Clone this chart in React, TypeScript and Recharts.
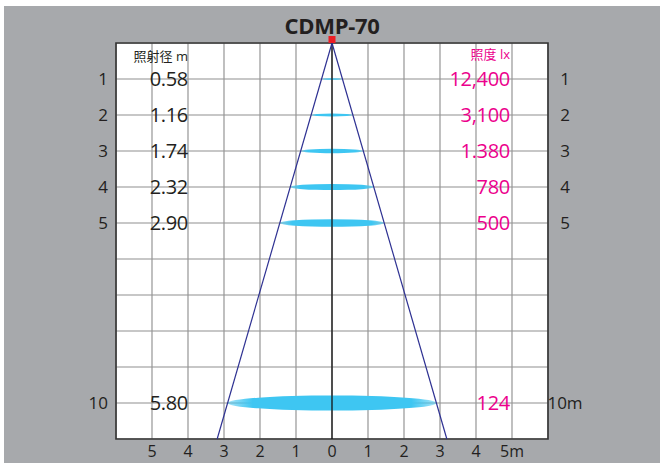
import React from 'react';
import {
  ComposedChart,
  XAxis,
  YAxis,
  CartesianGrid,
  ReferenceLine,
  ReferenceArea,
  Scatter,
} from 'recharts';

// ---------- data ----------
const title = 'CDMP-70';
const distances = [1, 2, 3, 4, 5, 10];
const diameters = [0.58, 1.16, 1.74, 2.32, 2.9, 5.8];
const diameterLabels = ['0.58', '1.16', '1.74', '2.32', '2.90', '5.80'];
const illuminance = ['12,400', '3,100', '1.380', '780', '500', '124'];
const leftRowLabels = ['1', '2', '3', '4', '5', '10'];
const rightRowLabels = ['1', '2', '3', '4', '5', '10m'];
const xTicks = [-5, -4, -3, -2, -1, 0, 1, 2, 3, 4, 5];
const xTickLabels = ['5', '4', '3', '2', '1', '0', '1', '2', '3', '4', '5m'];
const gridRows = [1, 2, 3, 4, 5, 6, 7, 8, 9, 10];
const leftHeader = '照射径 m';
const rightHeader = '照度 lx';
const lampData = [{ x: 0, y: 0 }];
const X_DOMAIN: [number, number] = [-6, 6];
const Y_DOMAIN: [number, number] = [0, 11];

// ---------- styles ----------
const DARK = '#231f20';
const PINK = '#ec008c';
const BLUE = '#3ec6f2';
const CONE = '#2e3192';
const BG = '#a7a9ac';
const FONT = '"Open Sans", "Noto Sans CJK JP", sans-serif';
const ELLIPSE_K = 0.021; // half-thickness of the light spot per metre of distance
const valueStyle: React.CSSProperties = { fontStretch: '93%' };

const last = distances.length - 1;
const coneEdge = (diameters[last] / 2 / distances[last]) * Y_DOMAIN[1];

const LeftTick = (props: any) => {
  const { x, y, payload } = props;
  const i = distances.indexOf(payload.value);
  if (i < 0) return <g />;
  return (
    <g fontFamily={FONT}>
      <text x={x - 8} y={y + 6} textAnchor="end" fontSize={17} fill={DARK}>
        {leftRowLabels[i]}
      </text>
      <text x={x + 72} y={y + 7} textAnchor="end" fontSize={20} letterSpacing={-0.3} style={valueStyle} fill={DARK}>
        {diameterLabels[i]}
      </text>
    </g>
  );
};

const RightTick = (props: any) => {
  const { x, y, payload } = props;
  const i = distances.indexOf(payload.value);
  if (i < 0) return <g />;
  return (
    <g fontFamily={FONT}>
      <text x={x + 17} y={y + 6} textAnchor="middle" fontSize={17} fill={DARK}>
        {rightRowLabels[i]}
      </text>
      <text x={x - 38} y={y + 7} textAnchor="end" fontSize={20} letterSpacing={-0.3} style={valueStyle} fill={PINK}>
        {illuminance[i]}
      </text>
    </g>
  );
};

const BottomTick = (props: any) => {
  const { x, y, payload } = props;
  const i = xTicks.indexOf(payload.value);
  if (i < 0) return <g />;
  return (
    <text x={x} y={y + 18} textAnchor="middle" fontSize={16} fontFamily={FONT} fill={DARK}>
      {xTickLabels[i]}
    </text>
  );
};

const LeftHeader = (props: any) => {
  const vb = props.viewBox || {};
  return (
    <text
      x={vb.x + vb.width + 72}
      y={vb.y + 18}
      textAnchor="end"
      fontSize={13}
      fontFamily={FONT}
      fill={DARK}
    >
      {leftHeader}
    </text>
  );
};

const RightHeader = (props: any) => {
  const vb = props.viewBox || {};
  return (
    <text x={vb.x - 38} y={vb.y + 16} textAnchor="end" fontSize={13} fontFamily={FONT} fill={PINK}>
      {rightHeader}
    </text>
  );
};

const EllipseShape = (p: any) => {
  const w = Math.abs(p.width);
  const h = Math.abs(p.height);
  return (
    <ellipse
      cx={p.x + p.width / 2}
      cy={p.y + p.height / 2}
      rx={w / 2}
      ry={h / 2}
      fill="url(#spotGrad)"
      stroke="none"
    />
  );
};

const LampShape = (p: any) => (
  <rect x={p.cx - 3.5} y={p.cy - 7} width={7} height={7} fill="#ed1c24" />
);

export default function App() {
  return (
    <div style={{ position: 'relative', width: 660, height: 463, background: '#fff', overflow: 'hidden' }}>
      <style>{'body{margin:0;}'}</style>
      <div style={{ position: 'absolute', left: 4, top: 6, width: 656, height: 457, background: BG }}>
        <div
          style={{
            position: 'absolute',
            left: 0,
            top: 8,
            width: 656,
            textAlign: 'center',
            fontFamily: FONT,
            fontWeight: 700,
            fontSize: 22,
            lineHeight: '22px',
            letterSpacing: -0.3,
            color: DARK,
          }}
        >
          {title}
        </div>
        <ComposedChart
          width={656}
          height={457}
          data={lampData}
          margin={{ top: 37, right: 0, bottom: 0, left: 0 }}
        >
          <defs>
            <linearGradient id="spotGrad" x1="0" y1="0" x2="1" y2="0">
              <stop offset="0%" stopColor={BLUE} stopOpacity={0.45} />
              <stop offset="12%" stopColor={BLUE} stopOpacity={1} />
              <stop offset="88%" stopColor={BLUE} stopOpacity={1} />
              <stop offset="100%" stopColor={BLUE} stopOpacity={0.45} />
            </linearGradient>
          </defs>
          <CartesianGrid fill="#ffffff" vertical={false} stroke="#b4b4b4" strokeWidth={1.5} />
          <CartesianGrid fill="none" horizontal={false} stroke="#959595" strokeWidth={1.2} />
          <XAxis
            type="number"
            dataKey="x"
            domain={X_DOMAIN}
            ticks={xTicks}
            interval={0}
            height={24}
            tickSize={0}
            tickMargin={0}
            tickLine={false}
            axisLine={false}
            tick={<BottomTick />}
          />
          <YAxis
            type="number"
            dataKey="y"
            domain={Y_DOMAIN}
            reversed
            ticks={gridRows}
            interval={0}
            width={112}
            tickSize={0}
            tickMargin={0}
            tickLine={false}
            axisLine={false}
            tick={<LeftTick />}
            label={{ content: LeftHeader }}
          />
          <YAxis
            yAxisId="right"
            orientation="right"
            type="number"
            domain={Y_DOMAIN}
            reversed
            ticks={gridRows}
            interval={0}
            width={112}
            tickSize={0}
            tickMargin={0}
            tickLine={false}
            axisLine={false}
            tick={<RightTick />}
            label={{ content: RightHeader }}
            allowDataOverflow
          />
          {distances.map((d, i) => (
            <ReferenceArea
              key={`spot-${d}`}
              x1={-diameters[i] / 2}
              x2={diameters[i] / 2}
              y1={d - d * ELLIPSE_K}
              y2={d + d * ELLIPSE_K}
              ifOverflow="visible"
              shape={EllipseShape}
            />
          ))}
          <ReferenceLine x={0} stroke="#111" strokeWidth={1.3} ifOverflow="visible" />
          <ReferenceLine
            segment={[
              { x: 0, y: 0 },
              { x: -coneEdge, y: Y_DOMAIN[1] },
            ]}
            stroke={CONE}
            strokeWidth={1.2}
            ifOverflow="visible"
          />
          <ReferenceLine
            segment={[
              { x: 0, y: 0 },
              { x: coneEdge, y: Y_DOMAIN[1] },
            ]}
            stroke={CONE}
            strokeWidth={1.2}
            ifOverflow="visible"
          />
          <ReferenceArea
            x1={X_DOMAIN[0]}
            x2={X_DOMAIN[1]}
            y1={Y_DOMAIN[0]}
            y2={Y_DOMAIN[1]}
            fill="none"
            fillOpacity={0}
            stroke="#333"
            strokeWidth={1.6}
            strokeOpacity={1}
            ifOverflow="visible"
          />
          <Scatter data={lampData} dataKey="y" shape={LampShape} isAnimationActive={false} />
        </ComposedChart>
      </div>
    </div>
  );
}
